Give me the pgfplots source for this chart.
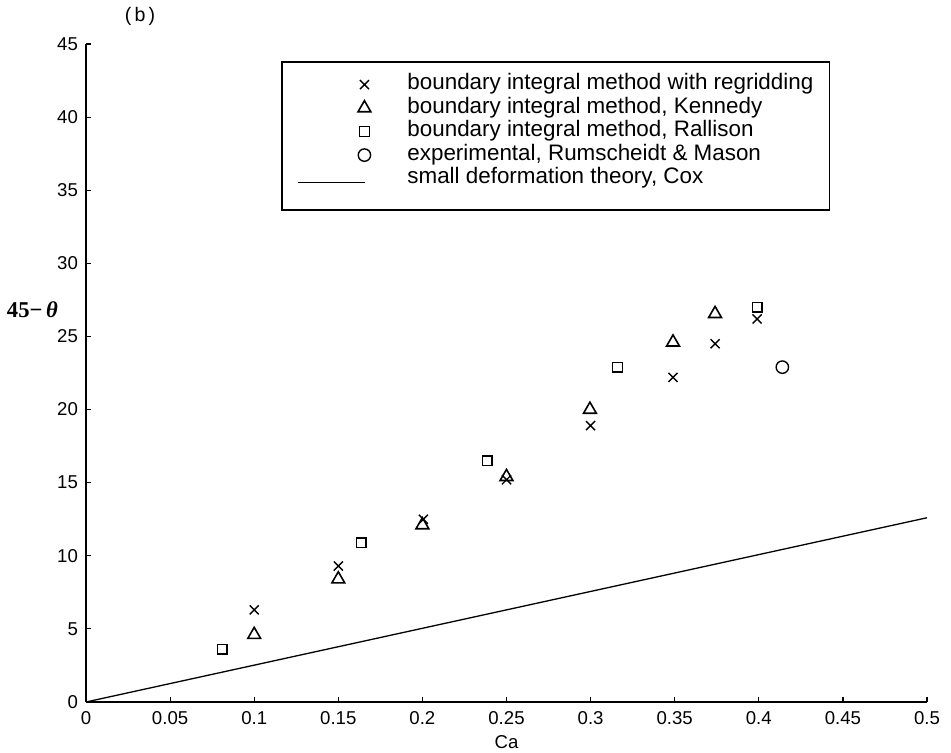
\documentclass[border=0pt]{standalone}
\usepackage{fontspec}
\setmainfont{Liberation Sans}
\newfontfamily\serifb{Liberation Serif}
\usepackage{pgfplots}
\pgfplotsset{compat=1.18}
\pgfplotsset{
    markleg/.style={legend image code/.code={\path[draw=none, fill=none] (0pt,-3pt) rectangle (37pt,3pt);
        \draw[##1] plot coordinates {(33pt,0pt)};}},
    lineleg/.style={legend image code/.code={\path[draw=none, fill=none] (0pt,-3pt) rectangle (37pt,3pt);
        \draw[##1] (0pt,0pt) -- (33.5pt,0pt);}},
}

\begin{document}
\begin{tikzpicture}
\begin{axis}[
    name=ax,
    scale only axis,
    width=420.5pt,
    height=329pt,
    xmin=0, xmax=0.5,
    ymin=0, ymax=45,
    clip=false,
    axis lines*=left,
    axis line style={line width=0.75pt},
    tick align=inside,
    major tick length=2.6pt,
    tick style={black, line width=0.6pt},
    xtick={0,0.05,0.1,0.15,0.2,0.25,0.3,0.35,0.4,0.45,0.5},
    xticklabels={0,0.05,0.1,0.15,0.2,0.25,0.3,0.35,0.4,0.45,0.5},
    ytick={0,5,10,15,20,25,30,35,40,45},
    /pgf/number format/assume math mode=true,
    tick label style={font=\fontsize{9.3}{11}\selectfont},
    xticklabel style={yshift=-1pt},
    yticklabel style={xshift=-0.5pt},
    xlabel={Ca},
    xlabel style={font=\fontsize{9.3}{11}\selectfont, yshift=1pt},
    legend cell align=left,
    legend style={
        at={(0.2319,0.974)}, anchor=north west,
        draw=black, line width=0.75pt,
        inner xsep=8pt, inner ysep=5.5pt,
        row sep=0pt, column sep=17.5pt,
        font=\fontsize{11.2}{13}\selectfont,
        nodes={inner xsep=0pt, inner ysep=0pt, text height=8.5pt, text depth=3.25pt},
    },
]
\addplot[only marks, mark=x, mark size=3.2pt, line width=0.7pt, markleg]
    coordinates {(0.1,6.3) (0.15,9.3) (0.2006,12.5) (0.25,15.2) (0.3,18.9) (0.349,22.2) (0.374,24.5) (0.399,26.2)};
\addlegendentry{boundary integral method with regridding}

\addplot[only marks, mark=triangle, mark size=3.7pt, line width=0.8pt, markleg]
    coordinates {(0.1,4.6) (0.15,8.4) (0.2,12.1) (0.25,15.4) (0.2996,20.0) (0.349,24.6) (0.374,26.55)};
\addlegendentry{boundary integral method, Kennedy}

\addplot[only marks, mark=square, mark size=2.4pt, line width=0.7pt, markleg]
    coordinates {(0.081,3.6) (0.1637,10.9) (0.2386,16.5) (0.316,22.9) (0.399,27.0)};
\addlegendentry{boundary integral method, Rallison}

\addplot[only marks, mark=o, mark size=3.1pt, line width=0.7pt, markleg]
    coordinates {(0.414,22.9)};
\addlegendentry{experimental, Rumscheidt \& Mason}

\addplot[black, line width=0.65pt, mark=none, lineleg]
    coordinates {(0,0) (0.5,12.6)};
\addlegendentry[text depth=7.5pt]{small deformation theory, Cox}

\node[anchor=east, font=\serifb\fontsize{11.3}{13}\selectfont\bfseries]
    at (rel axis cs:0,0.596) [xshift=-10.5pt] {45−\,\itshape θ};
\node[font=\fontsize{9.8}{11}\selectfont] at (rel axis cs:0,1) [xshift=27pt, yshift=14pt] {(\,b\,)};
\coordinate (sw) at (rel axis cs:0,0);
\coordinate (ne) at (rel axis cs:1,1);
\end{axis}
\pgfresetboundingbox
\path ([xshift=-43pt, yshift=-25.5pt]sw) rectangle ([xshift=12pt, yshift=22pt]ne);
\end{tikzpicture}
\end{document}
